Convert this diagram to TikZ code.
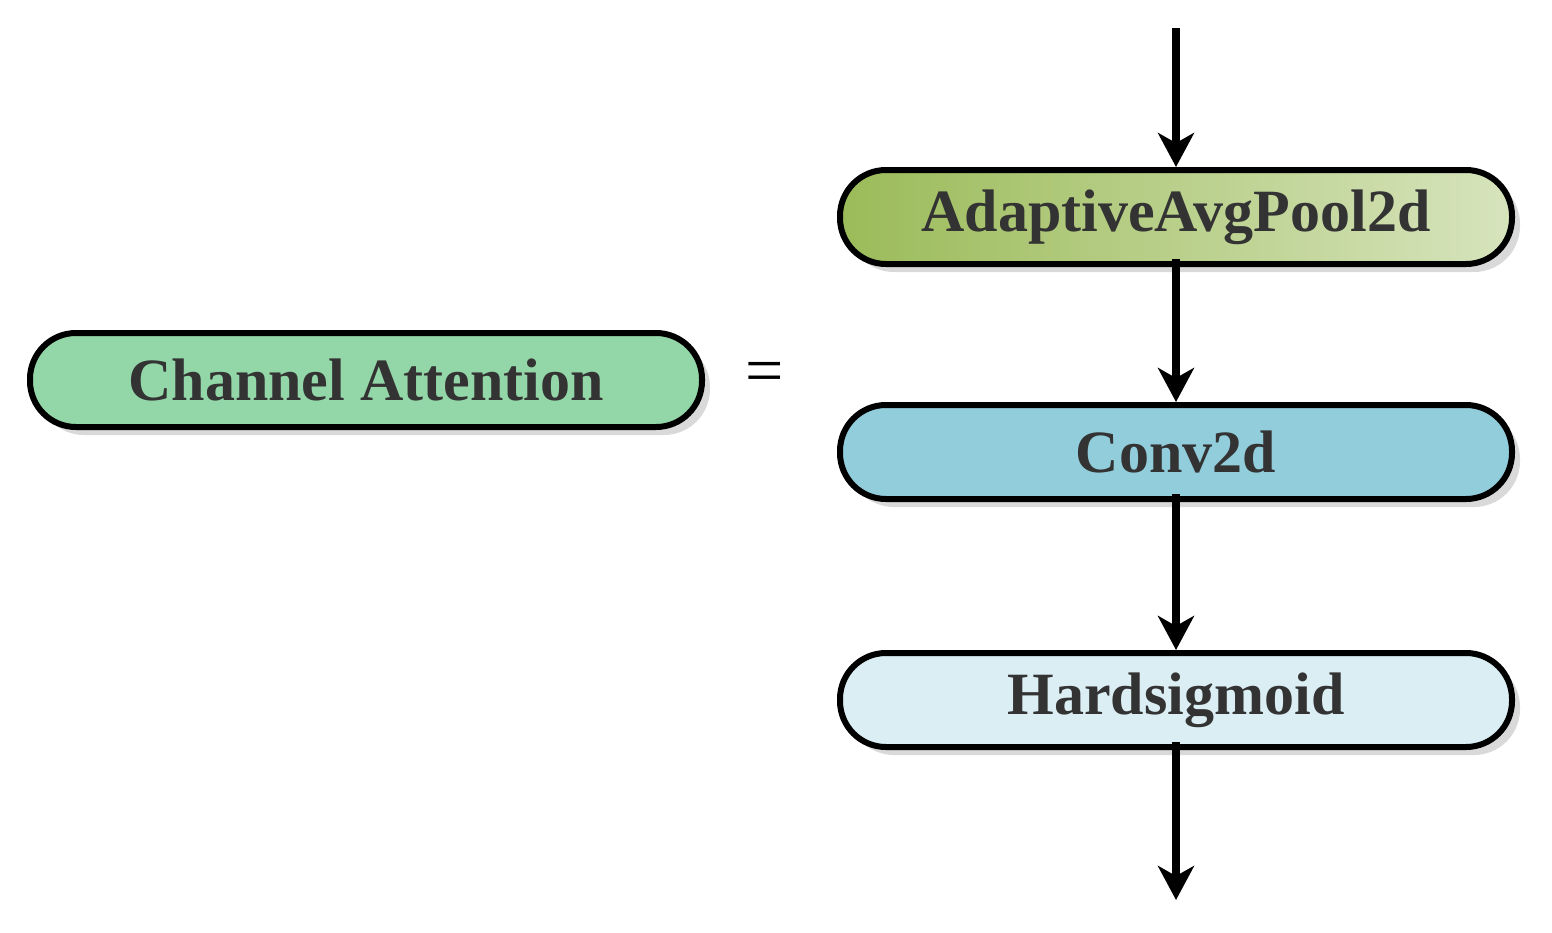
\documentclass[tikz,border=0pt]{standalone}
\usepackage{fontspec}
\setmainfont{Liberation Serif}
\usetikzlibrary{arrows.meta,shadows}
\definecolor{txt}{HTML}{333333}
\definecolor{cag}{HTML}{93D6A8}
\definecolor{pl}{HTML}{9BBB59}
\definecolor{pr}{HTML}{D7E4BD}
\definecolor{cv}{HTML}{92CDDC}
\definecolor{hs}{HTML}{DBEEF4}
\tikzset{
  blk/.style={draw=black, line width=3pt, rounded corners=23pt, minimum width=336pt, minimum height=47pt,
    font=\fontsize{30}{30}\selectfont\bfseries, text=txt,
    drop shadow={shadow xshift=4pt, shadow yshift=-4pt, fill=black!15, opacity=1}},
  arr/.style={line width=4pt, -{Stealth[length=17pt,width=18pt,inset=5pt]}}
}
\begin{document}
\begin{tikzpicture}[x=0.5pt,y=-0.5pt]
\useasboundingbox (0,0) rectangle (1552,932);
\node[blk, fill=cag] (ca) at (366,380) {Channel Attention};
\node[font=\fontsize{34}{34}\selectfont, text=black] (eq) at (765,378) {=};
\node[blk, left color=pl, right color=pr] (p) at (1176,217) {AdaptiveAvgPool2d};
\node[blk, fill=cv] (c) at (1176,452) {Conv2d};
\node[blk, fill=hs] (h) at (1176,700) {Hardsigmoid};
\coordinate (in) at (1176,28);
\coordinate (out) at (1176,900);
\draw[arr] (in) -- (p.north);
\draw[arr] (p.south) ++(0,-8) -- (c.north);
\draw[arr] (c.south) ++(0,-8) -- (h.north);
\draw[arr] (h.south) ++(0,-8) -- (out);
\end{tikzpicture}
\end{document}
